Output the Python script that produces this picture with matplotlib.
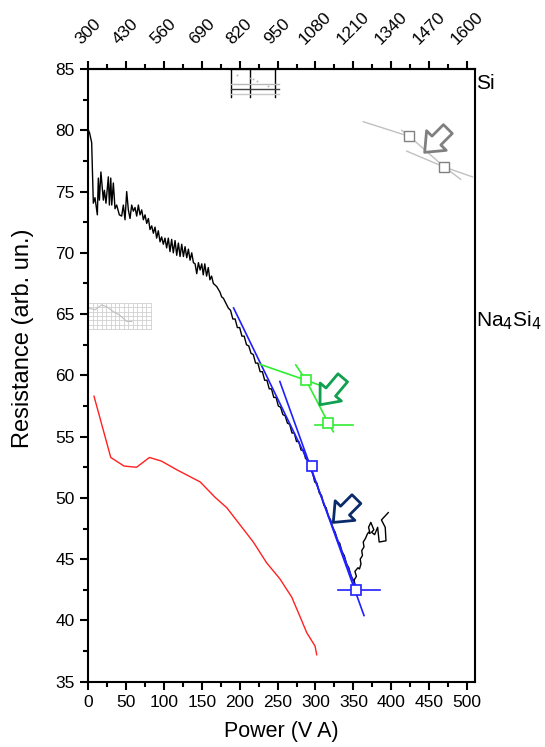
import matplotlib
matplotlib.use("Agg")
import matplotlib.pyplot as plt
from matplotlib.ticker import FixedLocator

plt.rcParams['font.family'] = ['Liberation Sans', 'DejaVu Sans']

# ---------------- data ----------------
black_x = [0.5, 2, 4.8, 7, 9.2, 12.3, 13.6, 15, 17, 20.2, 21.6, 23.7, 26.8, 28.2, 30, 31.3, 33.4,
           35.6, 37.8, 41.3, 44.4, 46.6, 48.8, 51, 53.2, 55.4, 57.6, 59.8, 62, 64.2, 66.4, 68.6,
           70.8, 73, 75.2, 77.4, 79.6, 81.8, 84, 86.2, 88.4, 90.5, 92.7, 95, 97.1, 99.3, 101.5,
           103.7, 105.9, 108.1, 110.3, 112.5, 114.8, 117, 119.2, 121.4, 123.6, 125.8, 128, 130.2,
           132.4, 134.6, 136.8, 139, 141.2, 143.4, 145.6, 147.8, 150, 152, 154, 156.4, 158.6,
           160.8, 163, 165.3, 169.7, 172, 174, 176.3, 178.5, 183, 185,
           188, 191, 194, 197, 200, 203, 206, 209, 212, 215, 218, 221, 224, 227, 230, 233, 236,
           239, 242, 245, 248, 251, 254, 257, 260, 263, 266, 269, 272, 275, 278, 281, 284, 287,
           290, 293, 296, 299, 302, 305, 308, 311, 314, 317, 320, 323, 326, 329, 332, 335, 338,
           341, 344, 347, 350, 352,
           351, 354, 352, 356, 358, 360, 359, 362, 361, 364, 363, 366, 368, 370, 372, 370, 373,
           377, 374, 378, 382, 384, 393, 392, 387, 396]
black_y = [80.0, 79.8, 79.0, 74.05, 74.5, 73.1, 76.1, 74.3, 76.6, 74.3, 75.1, 74.05, 76.2, 73.9,
           76.1, 73.9, 75.7, 73.6, 73.9, 73.1, 73.0, 73.9, 72.7, 75.0, 73.5, 72.8, 73.9, 73.4,
           73.7, 73.0, 73.9, 73.1, 73.5, 72.7, 73.1, 72.4, 72.8, 71.9, 72.2, 71.6, 72.1, 71.2,
           71.8, 70.9, 71.3, 70.7, 71.2, 70.4, 71.2, 70.1, 71.1, 70.0, 71.0, 69.8, 70.8, 69.7,
           70.7, 69.7, 70.5, 69.6, 70.3, 69.4, 70.0, 69.2, 69.1, 68.3, 69.2, 68.6, 69.1, 68.2,
           69.1, 68.1, 68.8, 67.8, 68.1, 67.5, 67.25, 67.0, 66.8, 66.4, 66.3, 65.75, 65.5,
           65.3, 64.6, 64.6, 63.9, 63.9, 63.2, 63.2, 62.5, 62.4, 61.8, 61.7, 61.0, 61.0, 60.3,
           60.3, 59.6, 59.6, 58.9, 58.9, 58.2, 58.2, 57.5, 57.4, 56.8, 56.7, 56.1, 56.0, 55.3,
           55.3, 54.6, 54.6, 53.9, 53.9, 53.2, 53.1, 52.3, 52.1, 51.3, 51.2, 50.4, 50.2, 49.4,
           49.2, 48.5, 48.2, 47.5, 47.2, 46.5, 46.3, 45.6, 45.3, 44.6, 44.3, 43.6, 43.3, 42.9,
           43.3, 43.6, 44.0, 44.3, 44.2, 44.6, 45.0, 45.3, 45.7, 46.0, 46.4, 46.7, 47.0, 47.2,
           47.1, 47.6, 48.0, 47.4, 47.2, 47.0, 47.6, 46.4, 46.5, 47.6, 48.2, 48.8]

red_x = [7.9, 30, 47.5, 64, 81, 97, 117, 148, 167.5, 183, 218, 235.6, 253, 268.7, 279.7, 288.5,
         299.5, 301.6]
red_y = [58.3, 53.3, 52.6, 52.5, 53.3, 53.0, 52.3, 51.3, 50.05, 49.2, 46.4, 44.7, 43.4, 41.9,
         40.3, 39.0, 37.9, 37.2]

# blue fits
blue1_x = [192, 290, 354]
blue1_y = [65.5, 53.0, 42.5]
blue2_x = [253, 364]
blue2_y = [59.5, 40.4]
blue_sq_x = [295, 354]
blue_sq_y = [52.6, 42.5]
blue_h_x = [330, 385]
blue_h_y = [42.5, 42.5]

# green fits
green1_x = [227, 287.6, 310]
green1_y = [60.9, 59.6, 59.1]
green2_x = [274, 287.6, 317, 323.6]
green2_y = [60.85, 59.6, 56.1, 55.4]
green_sq_x = [287.6, 317]
green_sq_y = [59.6, 56.1]
green_h_x = [299.5, 350]
green_h_y = [55.95, 55.95]

# grey fits (top right)
grey1_x = [363, 424]
grey1_y = [80.7, 79.5]
grey2_x = [413.7, 424, 470, 491.5]
grey2_y = [80.0, 79.5, 77.0, 76.0]
grey3_x = [420.3, 470, 507]
grey3_y = [78.3, 77.0, 76.2]
grey_sq_x = [424, 470]
grey_sq_y = [79.5, 77.0]

# arrows: (tail_x, tail_y, tip_x, tip_y, colour)
arrows = [
    (474.6, 80.1, 444.0, 78.2, '#808080'),
    (336.0, 59.8, 306.0, 57.6, '#10a050'),
    (354.0, 49.9, 323.5, 48.0, '#0a2a6a'),
]

# mini grid (left)
mini_gx = [0.5, 6.3, 12.2, 18.0, 23.9, 29.7, 35.6, 41.4, 47.3, 53.1, 59.0, 64.8, 70.7, 76.5, 82.7]
mini_gy = [65.9, 65.55, 65.2, 64.85, 64.5, 64.15, 63.8]
mini_cx = [0.4, 9.2, 18.0, 24.7, 33.4, 42.2, 51.0, 57.7]
mini_cy = [65.5, 65.35, 65.75, 65.6, 65.2, 64.9, 64.4, 64.4]

# top box
box_vx = [188, 213, 246]
box_hy = [83.8, 83.35, 82.95]
box_hc = ['#b8b8b8', '#404040', '#c8c8c8']
box_dx = [197, 213, 218, 223.5, 238]
box_dy = [84.55, 84.3, 84.15, 84.0, 83.6]

bottom_ticks = [0, 50, 100, 150, 200, 250, 300, 350, 400, 450, 500]
top_ticks = [300, 430, 560, 690, 820, 950, 1080, 1210, 1340, 1470, 1600]
y_ticks = [35, 40, 45, 50, 55, 60, 65, 70, 75, 80, 85]
right_labels = ['Si', 'Na$_4$Si$_4$']
right_label_y = [83.8, 64.5]

# ---------------- figure ----------------
fig = plt.figure(figsize=(5.45, 7.47), dpi=100)
ax = fig.add_axes([0.1615, 0.0874, 0.7095, 0.8202])
ax.set_xlim(0, 510)
ax.set_ylim(35, 85)

# decorations (mini grid, top box)
for gx in mini_gx:
    ax.plot([gx, gx], [mini_gy[-1], mini_gy[0]], color='#d0d0d0', lw=0.6, zorder=1)
for gy in mini_gy:
    ax.plot([mini_gx[0], mini_gx[-1]], [gy, gy], color='#d0d0d0', lw=0.6, zorder=1)
ax.plot(mini_cx, mini_cy, color='#c0c0c0', lw=0.8, zorder=1)

for vx in box_vx:
    ax.plot([vx, vx], [82.75, 85], color='black', lw=1.0, zorder=1)
ax.plot([box_vx[0], box_vx[-1]], [85, 85], color='black', lw=1.6, zorder=1)
for hy, hc in zip(box_hy, box_hc):
    ax.plot([box_vx[0], 252], [hy, hy], color=hc, lw=1.0, zorder=1)
ax.plot(box_dx, box_dy, ls='none', marker='s', ms=1.2, color='#b0b0b0', mec='none', zorder=1)

# curves
ax.plot(red_x, red_y, color='#ff2020', lw=1.0, zorder=2)
ax.plot(black_x, black_y, color='black', lw=1.0, zorder=3)

ax.plot(blue1_x, blue1_y, color='#2020ff', lw=1.2, zorder=4)
ax.plot(blue2_x, blue2_y, color='#2020ff', lw=1.2, zorder=4)
ax.plot(blue_h_x, blue_h_y, color='#2020ff', lw=1.2, zorder=4)
ax.plot(blue_sq_x, blue_sq_y, ls='none', marker='s', ms=7, mfc='white', mec='#2020ff', mew=1.2, zorder=5)

ax.plot(green1_x, green1_y, color='#30ee30', lw=1.2, zorder=4)
ax.plot(green2_x, green2_y, color='#30ee30', lw=1.2, zorder=4)
ax.plot(green_h_x, green_h_y, color='#30ee30', lw=1.2, zorder=4)
ax.plot(green_sq_x, green_sq_y, ls='none', marker='s', ms=7, mfc='white', mec='#30ee30', mew=1.2, zorder=5)

ax.plot(grey1_x, grey1_y, color='#c0c0c0', lw=1.0, zorder=4)
ax.plot(grey2_x, grey2_y, color='#c0c0c0', lw=1.0, zorder=4)
ax.plot(grey3_x, grey3_y, color='#c0c0c0', lw=1.0, zorder=4)
ax.plot(grey_sq_x, grey_sq_y, ls='none', marker='s', ms=7, mfc='white', mec='#808080', mew=1.0, zorder=5)

for tx, ty, hx, hy, c in arrows:
    ax.annotate('', xy=(hx, hy), xytext=(tx, ty),
                arrowprops=dict(arrowstyle='simple,head_length=0.6,head_width=1.0,tail_width=0.45',
                                mutation_scale=20, fc='white', ec=c, lw=2.0,
                                shrinkA=0, shrinkB=0), zorder=6)

# axes styling
for side in ['left', 'right', 'top', 'bottom']:
    ax.spines[side].set_linewidth(1.5)
ax.xaxis.set_major_locator(FixedLocator(bottom_ticks))
ax.xaxis.set_minor_locator(FixedLocator([t + 25 for t in bottom_ticks]))
ax.yaxis.set_major_locator(FixedLocator(y_ticks))
ax.yaxis.set_minor_locator(FixedLocator([t + 2.5 for t in y_ticks[:-1]]))
ax.tick_params(axis='both', which='major', direction='out', length=6, width=1.5,
               labelsize=12.5, top=False, right=False)
ax.tick_params(axis='both', which='minor', direction='out', length=3.5, width=1.5,
               top=False, right=False)
ax.set_xlabel('Power (V A)', fontsize=15.5, labelpad=8)
ax.set_ylabel('Resistance (arb. un.)', fontsize=17)
ax.yaxis.set_label_coords(-0.14, 0.56)

sec = ax.secondary_xaxis('top', functions=(lambda x: 300 + 2.6 * x, lambda t: (t - 300) / 2.6))
sec.xaxis.set_major_locator(FixedLocator(top_ticks))
sec.xaxis.set_minor_locator(FixedLocator([t + 65 for t in top_ticks[:-1]]))
sec.tick_params(which='major', direction='out', length=6, width=1.5, labelsize=12.5, pad=10)
sec.tick_params(which='minor', direction='out', length=3.5, width=1.5)
sec.spines['top'].set_linewidth(1.5)
for lab in sec.get_xticklabels():
    lab.set_rotation(45)
    lab.set_ha('center')
    lab.set_va('bottom')

for lab, yv in zip(right_labels, right_label_y):
    ax.text(1.004, (yv - 35) / 50, lab, transform=ax.transAxes, ha='left', va='center', fontsize=15)

fig.savefig('out.png', dpi=100)
